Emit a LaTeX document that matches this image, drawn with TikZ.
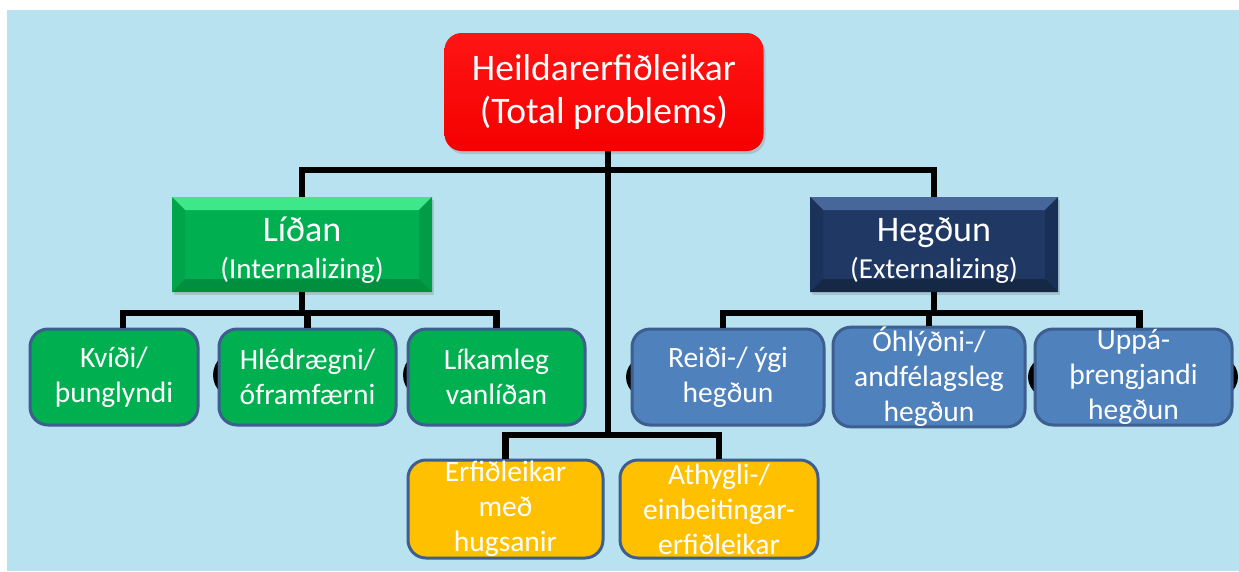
\documentclass[tikz,border=0pt]{standalone}
\usepackage{fontspec}
\setmainfont{Carlito}
\usetikzlibrary{calc,shadows}
\definecolor{bg}{HTML}{B8E2EF}
\definecolor{topred}{HTML}{FF0000}
\definecolor{gface}{HTML}{00B050}
\definecolor{gtop}{HTML}{3EE88A}
\definecolor{gleft}{HTML}{00A449}
\definecolor{gright}{HTML}{009C46}
\definecolor{gbot}{HTML}{008E3F}
\definecolor{nface}{HTML}{1F3864}
\definecolor{ntop}{HTML}{47679A}
\definecolor{nleft}{HTML}{1B325A}
\definecolor{nright}{HTML}{192F55}
\definecolor{nbot}{HTML}{152947}
\definecolor{kidgreen}{HTML}{00B050}
\definecolor{kidblue}{HTML}{4F81BD}
\definecolor{kidyellow}{HTML}{FFC000}
\definecolor{kidborder}{HTML}{3D5E8E}
\tikzset{
  conn/.style={line width=6.5pt, black, line join=miter},
  topbox/.style={rounded corners=17pt, top color=topred!92!white, bottom color=topred!96!black,
    minimum width=319pt, minimum height=118pt, inner sep=0pt, text=white, align=center,
    font=\fontsize{37.5}{43}\selectfont,
    drop shadow={opacity=0.3, shadow xshift=2pt, shadow yshift=-3pt}},
  bevel/.style n args={5}{fill=#1, path picture={
    \fill[#2] (path picture bounding box.north west) -- (path picture bounding box.north east)
      -- ([shift={(-13,13)}]path picture bounding box.north east) -- ([shift={(13,13)}]path picture bounding box.north west) -- cycle;
    \fill[#3] (path picture bounding box.north west) -- (path picture bounding box.south west)
      -- ([shift={(13,-13)}]path picture bounding box.south west) -- ([shift={(13,13)}]path picture bounding box.north west) -- cycle;
    \fill[#4] (path picture bounding box.north east) -- (path picture bounding box.south east)
      -- ([shift={(-13,-13)}]path picture bounding box.south east) -- ([shift={(-13,13)}]path picture bounding box.north east) -- cycle;
    \fill[#5] (path picture bounding box.south west) -- (path picture bounding box.south east)
      -- ([shift={(-13,-13)}]path picture bounding box.south east) -- ([shift={(13,-13)}]path picture bounding box.south west) -- cycle;
  }},
  midbox/.style={minimum height=95pt, inner sep=0pt, text=white, align=center,
    font=\fontsize{29}{37}\selectfont,
    drop shadow={opacity=0.3, shadow xshift=2pt, shadow yshift=-3pt}},
  kid/.style={rounded corners=18pt, draw=kidborder, line width=3pt, minimum height=96pt,
    inner sep=0pt, text=white, align=center, font=\fontsize{29.5}{35}\selectfont},
  ghost/.style={fill=black},
}
\newcommand{\bigline}[1]{{\fontsize{36}{37}\selectfont\rule{0pt}{35pt}#1}}
\begin{document}
\begin{tikzpicture}[x=1pt,y=-1pt]
\useasboundingbox (0,0) rectangle (1239,571);
\fill[white] (0,0) rectangle (1239,571);
\fill[bg] (7,10) rectangle (1239,571);

% junction coordinates
\coordinate (jTop) at (608,170);
\coordinate (jLeft) at (302,313);
\coordinate (jRight) at (934,313);
\coordinate (jBot) at (608,435);

% dark artefacts behind some boxes
\fill[ghost] (242,375) ellipse [x radius=29pt, y radius=26pt];
\fill[ghost] (432,375) ellipse [x radius=29pt, y radius=26pt];
\fill[ghost] (655,377) ellipse [x radius=29pt, y radius=24pt];
\fill[ghost] (1057,377) ellipse [x radius=29pt, y radius=24pt];
\fill[ghost] (1209,377) ellipse [x radius=29pt, y radius=24pt];

% nodes
\node[topbox] (top) at (604,92) {Heildarerfiðleikar\\(Total problems)};
\node[midbox, minimum width=260pt, bevel={gface}{gtop}{gleft}{gright}{gbot}] (lidan) at (302,244.5)
  {\bigline{Líðan}\\(Internalizing)};
\node[midbox, minimum width=248pt, bevel={nface}{ntop}{nleft}{nright}{nbot}] (hegdun) at (934,244.5)
  {\bigline{Hegðun}\\(Externalizing)};

% connectors
\draw[conn] (lidan.north) |- (jTop) -| (hegdun.north);
\draw[conn] (top.south -| jTop) -- (jBot);
\draw[conn] (lidan.south) -- (jLeft);
\draw[conn] (hegdun.south) -- (jRight);

\node[kid, fill=kidgreen, minimum width=168pt] (kvidi) at (114,377) {Kvíði/\\þunglyndi};
\node[kid, fill=kidgreen, minimum width=177pt] (hled) at (307.5,377) {Hlédrægni/\\óframfærni};
\node[kid, fill=kidgreen, minimum width=177pt] (lik) at (496.5,377) {Líkamleg\\vanlíðan};
\node[kid, fill=kidblue, minimum width=192pt] (reidi) at (728,377) {Reiði-/ ýgi\\hegðun};
\node[kid, fill=kidblue, minimum width=192pt] (ohl) at (929,377) {Óhlýðni-/\\andfélagsleg\\hegðun};
\node[kid, fill=kidblue, minimum width=197pt] (uppa) at (1133.5,377) {Uppá-\\þrengjandi\\hegðun};
\node[kid, fill=kidyellow, minimum width=195pt, minimum height=98pt] (erf) at (505.5,509) {Erfiðleikar\\með\\hugsanir};
\node[kid, fill=kidyellow, minimum width=198pt, minimum height=98pt] (ath) at (719,509) {Athygli-/\\einbeitingar-\\erfiðleikar};

% child connectors
\draw[conn] ([xshift=9pt]kvidi.north) |- (jLeft) -| (lik.north);
\draw[conn] (hled.north) -- (hled.north |- jLeft);
\draw[conn] ([xshift=-5pt]reidi.north) |- (jRight) -| ([xshift=6pt]uppa.north);
\draw[conn] (ohl.north) -- (ohl.north |- jRight);
\draw[conn] (erf.north) |- (jBot) -| (ath.north);
\end{tikzpicture}
\end{document}
